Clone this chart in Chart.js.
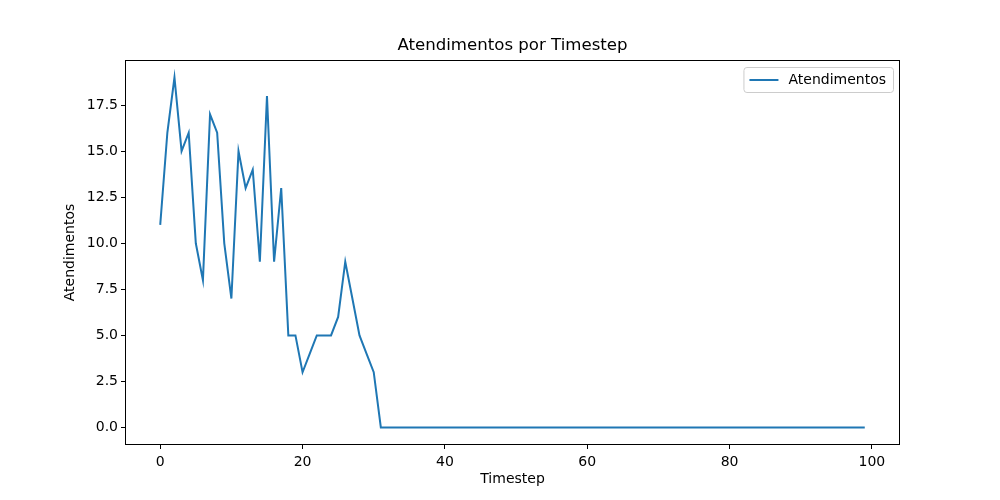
<!DOCTYPE html>
<html>
<head>
<meta charset="utf-8">
<script src="https://cdn.jsdelivr.net/npm/chart.js@4"></script>
<style>
  html, body { margin: 0; padding: 0; background: #fff; }
  #wrap { width: 1000px; height: 500px; position: relative; }
</style>
</head>
<body>
<div id="wrap"><canvas id="atendimentos-chart"></canvas></div>
<script>
// Data
const timesteps = Array.from({ length: 100 }, (_, i) => i);
const atendimentosHead = [11, 16, 19, 15, 16, 10, 8, 17, 16, 10, 7, 15, 13, 14, 9, 18, 9, 13, 5, 5,
                          3, 4, 5, 5, 5, 6, 9, 7, 5, 4, 3];
// the rest of the run stays at zero (timesteps 31..99)
const atendimentos = atendimentosHead.concat(new Array(100 - atendimentosHead.length).fill(0));
const xTickValues = [0, 20, 40, 60, 80, 100];
const yTickValues = [0, 2.5, 5, 7.5, 10, 12.5, 15, 17.5];
const chartTitle = "Atendimentos por Timestep";

const FONT = "DejaVu Sans";
const LINE_COLOR = "#1f77b4";

// Frame, title centred on the plot area and the in-plot legend, like matplotlib
const framePlugin = {
    id: "frame",
    afterDraw(chart) {
        const { ctx, chartArea: a } = chart;
        ctx.save();
        ctx.strokeStyle = "#000";
        ctx.lineWidth = 1;
        ctx.strokeRect(a.left + 0.5, a.top + 0.5, a.right - a.left - 1, a.bottom - a.top - 1);

        // title
        ctx.fillStyle = "#000";
        ctx.font = "16.6px '" + FONT + "'";
        ctx.textAlign = "center";
        ctx.textBaseline = "middle";
        ctx.fillText(chartTitle, (a.left + a.right) / 2, a.top - 14);

        // legend box (top right)
        const ds = chart.data.datasets[0];
        ctx.font = "14px '" + FONT + "'";
        ctx.textAlign = "left";
        const textW = ctx.measureText(ds.label).width;
        const boxW = textW + 52, boxH = 25;
        const bx = a.right - 7 - boxW, by = a.top + 7;
        ctx.beginPath();
        ctx.roundRect(bx + 0.5, by + 0.5, boxW, boxH, 3);
        ctx.fillStyle = "rgba(255,255,255,0.8)";
        ctx.fill();
        ctx.strokeStyle = "#cccccc";
        ctx.stroke();
        ctx.beginPath();
        ctx.moveTo(bx + 6, by + boxH / 2 + 0.5);
        ctx.lineTo(bx + 35, by + boxH / 2 + 0.5);
        ctx.strokeStyle = ds.borderColor;
        ctx.lineWidth = 2;
        ctx.stroke();
        ctx.fillStyle = "#000";
        ctx.textBaseline = "middle";
        ctx.fillText(ds.label, bx + 45, by + boxH / 2 + 1);
        ctx.restore();
    }
};

new Chart("atendimentos-chart", {
    type: "line",
    data: {
        labels: timesteps,
        datasets: [{
            label: "Atendimentos",
            data: timesteps.map((t, i) => ({ x: t, y: atendimentos[i] })),
            borderColor: LINE_COLOR,
            backgroundColor: LINE_COLOR,
            borderWidth: 2,
            pointRadius: 0,
            tension: 0,
            fill: false
        }]
    },
    options: {
        responsive: true,
        maintainAspectRatio: false,
        animation: false,
        layout: { padding: { left: 58, right: 100, top: 60, bottom: 8 } },
        plugins: {
            legend: { display: false },
            tooltip: { enabled: false },
            title: { display: false }
        },
        scales: {
            x: {
                type: "linear",
                min: -4.95,
                max: 103.95,
                afterBuildTicks: scale => { scale.ticks = xTickValues.map(v => ({ value: v })); },
                afterFit: scale => { scale.height = 47; },
                grid: { drawOnChartArea: false, drawTicks: true, tickLength: 4, color: "#000" },
                border: { display: false },
                ticks: { color: "#000", padding: 5, maxRotation: 0, font: { family: FONT, size: 14 } },
                title: { display: true, text: "Timestep", color: "#000", font: { family: FONT, size: 14 } }
            },
            y: {
                min: -0.95,
                max: 19.95,
                afterBuildTicks: scale => { scale.ticks = yTickValues.map(v => ({ value: v })); },
                afterFit: scale => { scale.width = 67; },
                grid: { drawOnChartArea: false, drawTicks: true, tickLength: 4, color: "#000" },
                border: { display: false },
                ticks: {
                    color: "#000",
                    padding: 3,
                    font: { family: FONT, size: 14 },
                    callback: v => Number(v).toFixed(1)
                },
                title: { display: true, text: "Atendimentos", color: "#000", font: { family: FONT, size: 14 } }
            }
        }
    },
    plugins: [framePlugin]
});
</script>
</body>
</html>
